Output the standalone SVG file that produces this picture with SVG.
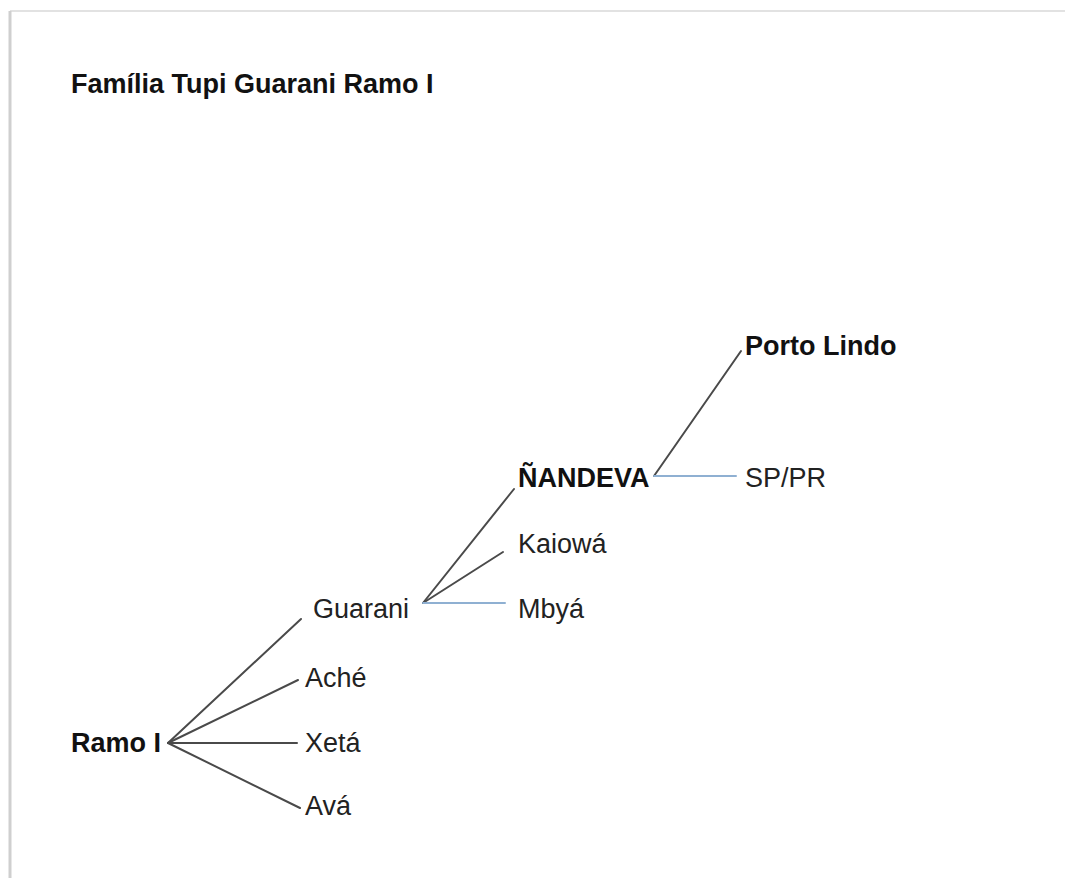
<svg xmlns="http://www.w3.org/2000/svg" width="1065" height="878" viewBox="0 0 1065 878">
  <style>
    text { font-family: "Liberation Sans", Arial, sans-serif; font-size: 27px; fill: #222; }
    .b { font-weight: bold; fill: #111; }
    .dark { stroke: #4a4a4a; stroke-width: 2; fill: none; stroke-linecap: round; }
    .blue { stroke: #8fb0d2; stroke-width: 2; fill: none; stroke-linecap: round; }
  </style>
  <rect width="1065" height="878" fill="#ffffff"/>
  <g id="page-border">
    <line x1="10" y1="11" x2="1065" y2="11" stroke="#e2e2e2" stroke-width="2"/>
    <line x1="10" y1="11" x2="10" y2="878" stroke="#cfcfcf" stroke-width="3"/>
  </g>
  <g id="title">
    <text class="b" x="71" y="93">Família Tupi Guarani Ramo I</text>
  </g>
  <g id="connectors">
    <line class="dark" x1="168" y1="743" x2="301" y2="619"/>
    <line class="dark" x1="168" y1="743" x2="298" y2="680"/>
    <line class="dark" x1="168" y1="743" x2="297" y2="743"/>
    <line class="dark" x1="168" y1="743" x2="300" y2="808"/>
    <line class="dark" x1="423" y1="603" x2="514" y2="489"/>
    <line class="dark" x1="423" y1="603" x2="503" y2="552"/>
    <line class="blue" x1="423" y1="603" x2="505" y2="603"/>
    <line class="dark" x1="654" y1="476" x2="741" y2="351"/>
    <line class="blue" x1="654" y1="476" x2="736" y2="476"/>
  </g>
  <g id="node-ramo-i"><text class="b" x="71" y="752">Ramo I</text></g>
  <g id="node-guarani"><text x="313" y="618">Guarani</text></g>
  <g id="node-ache"><text x="305" y="687">Aché</text></g>
  <g id="node-xeta"><text x="305" y="752">Xetá</text></g>
  <g id="node-ava"><text x="305" y="815">Avá</text></g>
  <g id="node-nandeva"><text class="b" x="518" y="487">ÑANDEVA</text></g>
  <g id="node-kaiowa"><text x="518" y="553">Kaiowá</text></g>
  <g id="node-mbya"><text x="518" y="618">Mbyá</text></g>
  <g id="node-porto-lindo"><text class="b" x="745" y="355">Porto Lindo</text></g>
  <g id="node-sp-pr"><text x="745" y="487">SP/PR</text></g>
</svg>
